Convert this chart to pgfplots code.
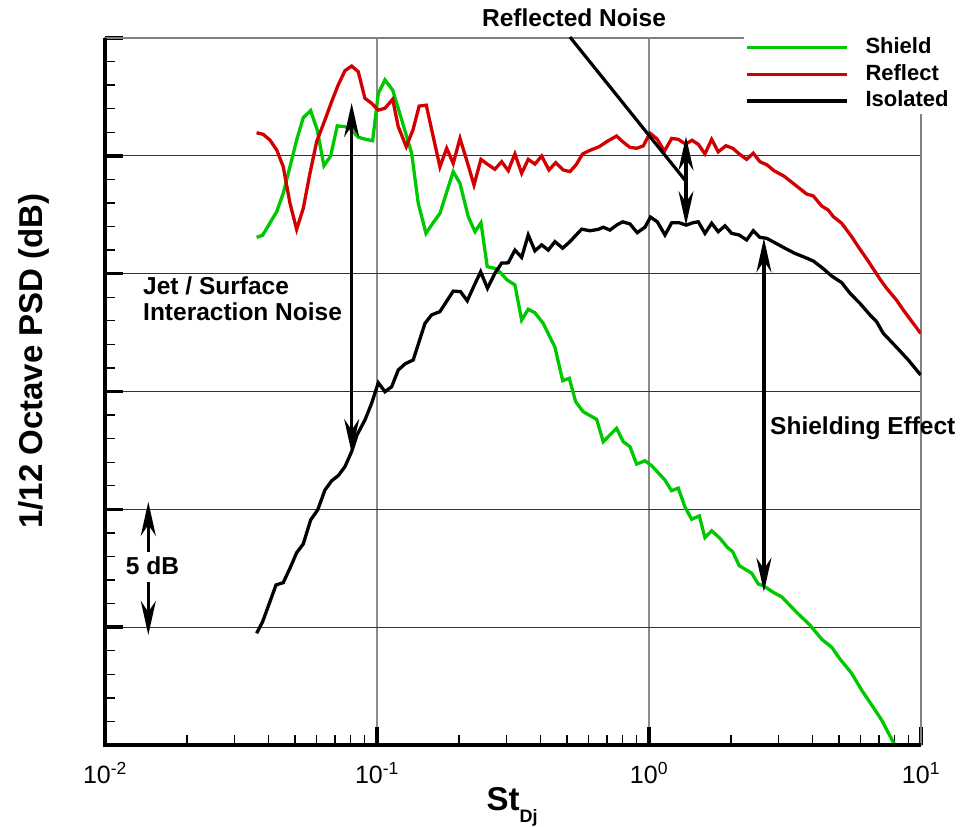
\documentclass[border=0pt]{standalone}
\usepackage{fontspec}
\setmainfont{Liberation Sans}
\usepackage{pgfplots}
\pgfplotsset{compat=1.18}
\usetikzlibrary{arrows.meta}
\definecolor{shieldgreen}{RGB}{0,200,0}
\definecolor{reflectred}{RGB}{210,0,0}
\tikzset{ann/.style={line width=3.2bp, black},
  tip/.tip={Stealth[length=34bp,width=15bp,inset=11bp]}}
\begin{document}
\begin{tikzpicture}
\path[use as bounding box] (-105bp,-82bp) rectangle (862bp,745bp);
\begin{axis}[
  scale only axis, width=816bp, height=707bp,
  xmode=log, xmin=0.01, xmax=10, ymin=0, ymax=30,
  xtick={0.01,0.1,1,10},
  xticklabels={10\textsuperscript{-2},10\textsuperscript{-1},10\textsuperscript{0},10\textsuperscript{1}},
  ytick={0,5,...,30}, minor y tick num=4, yticklabels={},
  xtick pos=left, ytick pos=left, tick align=inside,
  major tick length=18bp, minor tick length=10bp,
  major tick style={line width=3.5bp, black},
  minor tick style={line width=1.3bp, black},
  grid=major,
  x grid style={gray!90, line width=1.3bp},
  y grid style={black!80, line width=1.3bp},
  axis line style={gray, line width=1.8bp},
  xticklabel style={font=\fontsize{25bp}{25bp}\selectfont, anchor=base, yshift=-38bp},
  clip mode=individual,
  legend cell align=left,
  legend image code/.code={\draw[#1] (0bp,0bp) -- (100bp,0bp);},
  legend style={at={(0.7831,1.0052)}, anchor=north west, draw=none, fill=white,
    inner xsep=1bp, inner ysep=3bp, column sep=17bp, row sep=6.7bp,
    font=\fontsize{22bp}{22bp}\selectfont\bfseries,
    nodes={inner sep=0pt, text height=16bp, text depth=4bp}},
]
\addplot[shieldgreen, line width=3.3bp] coordinates {
(0.03610,21.54)(0.03798,21.63)(0.04278,22.63)(0.04522,23.41)(0.04787,24.54)(0.05066,25.67)(0.05357,26.62)(0.05703,26.92)(0.06031,26.10)(0.06382,24.58)(0.06755,24.99)(0.07143,26.27)(0.07624,26.24)(0.08069,26.10)(0.08532,25.79)(0.0903,25.71)(0.09638,25.64)(0.1011,27.65)(0.1070,28.22)(0.1142,27.79)(0.1233,26.52)(0.1341,25.11)(0.1418,22.99)(0.1514,21.71)(0.1606,22.15)(0.1704,22.56)(0.1907,24.33)(0.2019,23.83)(0.2165,22.42)(0.2292,21.78)(0.2411,22.16)(0.2543,20.30)(0.2761,20.20)(0.3012,19.73)(0.3215,19.52)(0.3403,18.03)(0.3598,18.49)(0.3808,18.34)(0.4085,17.89)(0.4510,16.88)(0.4816,15.46)(0.5092,15.56)(0.5374,14.57)(0.5732,14.14)(0.6419,13.82)(0.6789,12.87)(0.7603,13.44)(0.8041,12.87)(0.8510,12.66)(0.9006,11.92)(0.9662,12.06)(1.023,11.85)(1.145,11.24)(1.210,10.79)(1.281,10.90)(1.356,10.10)(1.435,9.58)(1.531,9.72)(1.606,8.80)(1.700,9.09)(1.824,8.77)(1.940,8.39)(2.031,8.20)(2.147,7.61)(2.385,7.29)(2.522,6.83)(2.631,6.76)(2.880,6.46)(3.074,6.29)(3.490,5.63)(3.906,5.09)(4.314,4.49)(4.695,4.15)(5.036,3.65)(5.560,3.04)(6.051,2.33)(6.586,1.70)(7.167,1.06)(7.974,0.04)(8.439,-0.5)
};
\addlegendentry{Shield}
\addplot[reflectred, line width=3.3bp] coordinates {
(0.03610,25.98)(0.03819,25.91)(0.04040,25.67)(0.04278,25.25)(0.04522,24.54)(0.04787,22.99)(0.05066,21.88)(0.05357,22.77)(0.05670,24.26)(0.06000,25.60)(0.06437,26.52)(0.06812,27.30)(0.07204,28.01)(0.07624,28.61)(0.08069,28.81)(0.08532,28.57)(0.0903,27.44)(0.09557,27.23)(0.1011,26.94)(0.1070,27.02)(0.1142,27.40)(0.1197,26.24)(0.1281,25.39)(0.1356,26.10)(0.1429,27.11)(0.1518,27.15)(0.1610,25.81)(0.1704,24.53)(0.1804,25.32)(0.1907,24.68)(0.2019,25.74)(0.2136,24.82)(0.2273,23.76)(0.2411,24.85)(0.2543,24.65)(0.2714,24.43)(0.2873,24.75)(0.3038,24.37)(0.3215,25.08)(0.3403,24.26)(0.3598,24.85)(0.3808,24.65)(0.4030,24.99)(0.4289,24.40)(0.4539,24.71)(0.4840,24.40)(0.5122,24.33)(0.5389,24.61)(0.5703,25.08)(0.6031,25.22)(0.6564,25.39)(0.7082,25.64)(0.7603,25.84)(0.8001,25.60)(0.8510,25.36)(0.9006,25.32)(0.9524,25.42)(1.0085,25.96)(1.070,25.72)(1.140,25.20)(1.212,25.74)(1.281,25.70)(1.362,25.50)(1.441,25.66)(1.520,25.48)(1.606,25.08)(1.700,25.70)(1.797,25.17)(1.919,25.43)(2.031,25.32)(2.147,25.08)(2.286,24.85)(2.417,25.11)(2.558,24.75)(2.721,24.61)(2.880,24.37)(3.134,24.14)(3.391,23.83)(3.798,23.38)(4.016,23.30)(4.314,22.87)(4.560,22.70)(4.758,22.42)(5.109,22.14)(5.560,21.57)(5.930,21.08)(6.357,20.58)(7.065,19.77)(7.476,19.38)(8.124,18.88)(8.605,18.46)(9.365,17.89)(9.97,17.47)
};
\addlegendentry{Reflect}
\addplot[black, line width=3.3bp] coordinates {
(0.03610,4.74)(0.03798,5.23)(0.04040,6.08)(0.04253,6.79)(0.04522,6.89)(0.04787,7.50)(0.05066,8.16)(0.05357,8.53)(0.05703,9.55)(0.06051,9.97)(0.06437,10.82)(0.06812,11.21)(0.07204,11.43)(0.07624,11.81)(0.08069,12.45)(0.08439,13.15)(0.0903,13.79)(0.09557,14.50)(0.1011,15.37)(0.1070,14.99)(0.1132,15.20)(0.1197,15.91)(0.1267,16.17)(0.1359,16.34)(0.1501,17.89)(0.1588,18.25)(0.1704,18.39)(0.1907,19.26)(0.2027,19.24)(0.2147,18.85)(0.2273,19.48)(0.2405,20.08)(0.2548,19.38)(0.2714,20.02)(0.2873,20.45)(0.3038,20.46)(0.3215,21.00)(0.3403,20.69)(0.3598,21.64)(0.3808,20.97)(0.4030,21.22)(0.4264,21.00)(0.4510,21.36)(0.4816,21.08)(0.5122,21.36)(0.5656,21.89)(0.6067,21.82)(0.6508,21.88)(0.6789,21.97)(0.7185,21.85)(0.7603,22.06)(0.8001,22.20)(0.8510,22.11)(0.9053,21.74)(0.9662,21.97)(1.0128,22.40)(1.073,22.20)(1.145,21.64)(1.212,22.16)(1.292,22.16)(1.371,22.06)(1.448,22.16)(1.518,22.20)(1.606,21.71)(1.700,22.14)(1.797,21.78)(1.903,22.03)(2.013,21.71)(2.147,21.64)(2.286,21.43)(2.417,21.82)(2.558,21.54)(2.708,21.50)(2.905,21.31)(3.161,21.08)(3.440,20.86)(3.691,20.72)(4.016,20.54)(4.344,20.24)(4.695,19.90)(5.109,19.62)(5.481,19.17)(5.965,18.74)(6.492,18.25)(6.870,17.96)(7.265,17.47)(8.124,16.88)(8.977,16.34)(9.97,15.70)
};
\addlegendentry{Isolated}
% thick left and bottom axis lines
\draw[black, line width=3.5bp] (rel axis cs:0,1) -- (rel axis cs:0,0) -- (rel axis cs:1,0);
% annotations
\draw[ann] (axis cs:0.5122,30.04) -- (axis cs:1.356,23.97);
\draw[ann, tip-tip] (axis cs:1.368,25.82) -- (axis cs:1.368,22.06);
\draw[ann, tip-tip] (axis cs:0.0807,27.24) -- (axis cs:0.0807,12.39);
\draw[ann, tip-tip] (axis cs:2.646,21.50) -- (axis cs:2.646,6.50);
\draw[ann, -tip] (axis cs:0.01443,8.20) -- (axis cs:0.01443,10.32);
\draw[ann, -tip] (axis cs:0.01443,6.92) -- (axis cs:0.01443,4.67);
\end{axis}
\begin{scope}[every node/.style={inner sep=0pt, font=\fontsize{24.5bp}{24.5bp}\selectfont\bfseries}]
\node[anchor=base] at (469bp,718bp) {Reflected Noise};
\node[anchor=base west] at (38bp,450bp) {Jet / Surface};
\node[anchor=base west] at (38bp,424bp) {Interaction Noise};
\node[anchor=base west] at (665bp,310bp) {Shielding Effect};
\node[anchor=base] at (47.5bp,170bp) {5 dB};
\end{scope}
\node[anchor=base, inner sep=0pt, font=\fontsize{33bp}{33bp}\selectfont\bfseries] at (407bp,-65bp)
  {St\raisebox{-12bp}{\fontsize{18bp}{18bp}\selectfont Dj}};
\node[anchor=base, rotate=90, inner sep=0pt, font=\fontsize{33bp}{33bp}\selectfont\bfseries] at (-62bp,384bp)
  {1/12 Octave PSD (dB)};
\end{tikzpicture}
\end{document}
